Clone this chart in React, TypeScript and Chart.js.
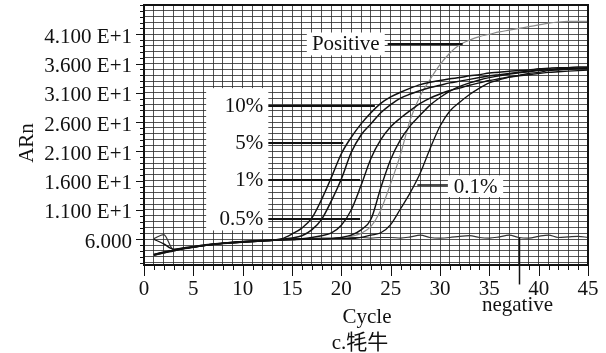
import React, { useEffect, useRef } from 'react';
import { Chart, registerables } from 'chart.js';

Chart.register(...registerables);

// ---- data ----
const cycles = [1, 2, 3, 4, 5, 6, 7, 8, 9, 10, 11, 12, 13, 14, 15, 16, 17, 18, 19, 20, 21, 22, 23, 24, 25, 26, 27, 28, 29, 30, 31, 32, 33, 34, 35, 36, 37, 38, 39, 40, 41, 42, 43, 44, 45];

const xGridValues = [0, 1, 2, 3, 4, 5, 6, 7, 8, 9, 10, 11, 12, 13, 14, 15, 16, 17, 18, 19, 20, 21, 22, 23, 24, 25, 26, 27, 28, 29, 30, 31, 32, 33, 34, 35, 36, 37, 38, 39, 40, 41, 42, 43, 44, 45];
const xTickValues = [0, 5, 10, 15, 20, 25, 30, 35, 40, 45];
const xTickLabels = ['0', '5', '10', '15', '20', '25', '30', '35', '40', '45'];

const yGridValues = [2, 3, 4, 5, 6, 7, 8, 9, 10, 11, 12, 13, 14, 15, 16, 17, 18, 19, 20, 21, 22, 23, 24, 25, 26, 27, 28, 29, 30, 31, 32, 33, 34, 35, 36, 37, 38, 39, 40, 41, 42, 43, 44, 45, 46];
const yTickValues = [6, 11, 16, 21, 26, 31, 36, 41];
const yTickLabels = ['6.000', '1.100 E+1', '1.600 E+1', '2.100 E+1', '2.600 E+1', '3.100 E+1', '3.600 E+1', '4.100 E+1'];
const yMin = 1.6;
const yMax = 46;

const tenPct = [3.3, 3.7, 4.1, 4.4, 4.7, 4.9, 5.1, 5.3, 5.4, 5.5, 5.6, 5.7, 5.8, 6.1, 6.9, 7.9, 9.6, 12.8, 16.6, 20.6, 23.4, 25.7, 27.6, 29.2, 30.3, 31.1, 31.8, 32.4, 32.8, 33.1, 33.4, 33.6, 33.9, 34.1, 34.4, 34.5, 34.7, 34.8, 34.9, 35.1, 35.2, 35.3, 35.3, 35.4, 35.4];
const fivePct = [3.4, 3.8, 4.1, 4.5, 4.7, 5.0, 5.2, 5.3, 5.5, 5.6, 5.7, 5.8, 5.9, 6.0, 6.2, 6.6, 7.6, 9.4, 12.6, 16.3, 20.8, 23.8, 25.7, 27.6, 29.0, 30.1, 30.8, 31.4, 31.9, 32.3, 32.7, 33.0, 33.3, 33.6, 33.9, 34.1, 34.3, 34.5, 34.7, 34.9, 35.0, 35.1, 35.2, 35.2, 35.3];
const onePct = [3.3, 3.7, 4.0, 4.4, 4.6, 4.9, 5.1, 5.3, 5.4, 5.5, 5.6, 5.7, 5.8, 5.9, 6.0, 6.1, 6.3, 6.6, 7.1, 8.4, 11.0, 15.2, 19.8, 23.0, 25.2, 26.7, 28.0, 29.2, 30.1, 30.8, 31.4, 31.8, 32.3, 32.7, 33.1, 33.4, 33.7, 33.9, 34.1, 34.3, 34.5, 34.6, 34.7, 34.8, 34.9];
const halfPct = [3.4, 3.8, 4.1, 4.4, 4.7, 4.9, 5.2, 5.3, 5.5, 5.6, 5.7, 5.8, 5.8, 5.9, 6.0, 6.0, 6.0, 6.0, 6.1, 6.3, 6.7, 7.6, 9.4, 14.8, 19.6, 23.0, 25.4, 27.2, 28.9, 30.2, 31.3, 32.1, 32.7, 33.2, 33.6, 33.9, 34.2, 34.4, 34.6, 34.8, 34.9, 35.0, 35.1, 35.2, 35.2];
const tenthPct = [6.0, 5.2, 4.3, 4.5, 4.7, 4.9, 5.1, 5.3, 5.4, 5.5, 5.6, 5.7, 5.8, 5.9, 5.9, 6.0, 6.0, 6.0, 6.1, 6.1, 6.1, 6.3, 6.7, 7.1, 8.5, 11.2, 14.0, 17.3, 21.5, 25.3, 27.9, 29.4, 30.7, 31.8, 32.7, 33.2, 33.7, 34.0, 34.3, 34.5, 34.8, 34.9, 35.0, 35.1, 35.2];
const positive = [3.2, 3.6, 4.0, 4.3, 4.6, 4.9, 5.1, 5.2, 5.4, 5.5, 5.6, 5.7, 5.8, 5.9, 5.9, 6.0, 6.0, 6.0, 6.1, 6.2, 6.5, 7.0, 8.2, 11.0, 15.5, 20.5, 26.5, 30.5, 33.3, 35.8, 37.8, 39.2, 40.0, 40.6, 41.0, 41.4, 41.7, 42.0, 42.3, 42.6, 42.9, 43.1, 43.2, 43.2, 43.2];
const negative = [6.1, 6.8, 4.2, 4.4, 4.7, 4.9, 5.1, 5.3, 5.4, 5.6, 5.7, 5.8, 5.9, 5.9, 6.0, 6.1, 6.1, 6.2, 6.2, 6.3, 6.3, 6.3, 6.2, 6.3, 6.3, 6.2, 6.4, 6.7, 6.3, 6.2, 6.3, 6.5, 6.6, 6.3, 6.2, 6.4, 6.7, 6.3, 6.2, 6.5, 6.7, 6.3, 6.4, 6.5, 6.3];

// annotation labels (data coordinates)
const pctLabels = ['10%', '5%', '1%', '0.5%'];
const pctLineValues = [28.7, 22.4, 16.1, 9.4];
const pctLineEnds = [23.4, 20.2, 21.9, 21.9];
const pctBox = [6.3, 12.6, 31.8, 7.5]; // x0, x1, yTop, yBottom
const positiveLabel = 'Positive';
const positiveBox = [16.5, 24.4, 41.3, 37.4];
const positiveLine = [24.7, 32.3, 39.3];
const tenthLabel = '0.1%';
const tenthBox = [30.8, 36.4, 16.9, 13.2];
const tenthLine = [27.7, 30.8, 15.2];
const negativeLabel = 'negative';
const negativeAt = [38.0, 6.3];
const xTitle = 'Cycle';
const subTitle = 'c.牦牛';
const yTitle = 'ARn';

const FONT = '"Liberation Serif", "Noto Sans CJK SC", serif';

const series = [
  { label: '10%', data: tenPct, color: '#111', width: 1.5 },
  { label: '5%', data: fivePct, color: '#111', width: 1.5 },
  { label: '1%', data: onePct, color: '#111', width: 1.4 },
  { label: '0.5%', data: halfPct, color: '#111', width: 1.4 },
  { label: '0.1%', data: tenthPct, color: '#111', width: 1.3 },
  { label: 'Positive', data: positive, color: '#8c8c8c', width: 1.2 },
  { label: 'negative', data: negative, color: '#333', width: 1.2 },
];

const overlay = {
  id: 'overlay',
  beforeDatasetsDraw(chart: any) {
    const { ctx, scales } = chart;
    const x = scales.x, y = scales.y;
    ctx.save();
    ctx.fillStyle = '#ffffff';
    const box = (b: number[]) => {
      const x0 = x.getPixelForValue(b[0]);
      const x1 = x.getPixelForValue(b[1]);
      const y0 = y.getPixelForValue(b[2]);
      const y1 = y.getPixelForValue(b[3]);
      ctx.fillRect(x0, y0, x1 - x0, y1 - y0);
    };
    box(pctBox);
    box(positiveBox);
    box(tenthBox);
    ctx.restore();
  },
  afterDatasetsDraw(chart: any) {
    const { ctx, scales } = chart;
    const x = scales.x, y = scales.y;
    ctx.save();
    ctx.fillStyle = '#111';
    ctx.strokeStyle = '#111';
    ctx.font = `21px ${FONT}`;

    // percent labels
    const boxRight = x.getPixelForValue(pctBox[1]);
    pctLabels.forEach((t, i) => {
      const py = Math.round(y.getPixelForValue(pctLineValues[i]));
      ctx.textAlign = 'right';
      ctx.textBaseline = 'middle';
      ctx.fillText(t, boxRight - 5, py);
      ctx.lineWidth = 2;
      ctx.beginPath();
      ctx.moveTo(boxRight, py);
      ctx.lineTo(x.getPixelForValue(pctLineEnds[i]), py);
      ctx.stroke();
    });

    // Positive
    ctx.textAlign = 'center';
    ctx.textBaseline = 'middle';
    ctx.fillText(
      positiveLabel,
      (x.getPixelForValue(positiveBox[0]) + x.getPixelForValue(positiveBox[1])) / 2,
      (y.getPixelForValue(positiveBox[2]) + y.getPixelForValue(positiveBox[3])) / 2 + 1
    );
    ctx.lineWidth = 2;
    let py = Math.round(y.getPixelForValue(positiveLine[2]));
    ctx.beginPath();
    ctx.moveTo(x.getPixelForValue(positiveLine[0]), py);
    ctx.lineTo(x.getPixelForValue(positiveLine[1]), py);
    ctx.stroke();

    // 0.1%
    ctx.fillText(
      tenthLabel,
      (x.getPixelForValue(tenthBox[0]) + x.getPixelForValue(tenthBox[1])) / 2,
      (y.getPixelForValue(tenthBox[2]) + y.getPixelForValue(tenthBox[3])) / 2 + 1
    );
    ctx.lineWidth = 1.5;
    py = Math.round(y.getPixelForValue(tenthLine[2]));
    ctx.beginPath();
    ctx.moveTo(x.getPixelForValue(tenthLine[0]), py);
    ctx.lineTo(x.getPixelForValue(tenthLine[1]), py);
    ctx.stroke();
    ctx.restore();
  },
  afterDraw(chart: any) {
    const { ctx, scales, chartArea } = chart;
    const x = scales.x, y = scales.y;
    ctx.save();
    ctx.strokeStyle = '#111';
    // frame
    ctx.lineWidth = 2;
    ctx.strokeRect(chartArea.left, chartArea.top, chartArea.right - chartArea.left, chartArea.bottom - chartArea.top);
    // x tick marks
    ctx.lineWidth = 1;
    xGridValues.forEach((v) => {
      const px = Math.round(x.getPixelForValue(v)) + 0.5;
      const len = xTickValues.includes(v) ? 11 : 5;
      ctx.beginPath();
      ctx.moveTo(px, chartArea.bottom);
      ctx.lineTo(px, chartArea.bottom + len);
      ctx.stroke();
    });
    // y tick marks
    yGridValues.forEach((v) => {
      const pyy = Math.round(y.getPixelForValue(v)) + 0.5;
      const len = yTickValues.includes(v) ? 8 : 4;
      ctx.beginPath();
      ctx.moveTo(chartArea.left - len, pyy);
      ctx.lineTo(chartArea.left, pyy);
      ctx.stroke();
    });
    // negative pointer
    const nx = Math.round(x.getPixelForValue(negativeAt[0])) + 0.5;
    const ny = y.getPixelForValue(negativeAt[1]);
    ctx.lineWidth = 1.5;
    ctx.beginPath();
    ctx.moveTo(nx, ny);
    ctx.lineTo(nx, ny + 47);
    ctx.stroke();
    ctx.fillStyle = '#111';
    ctx.font = `21px ${FONT}`;
    ctx.textAlign = 'center';
    ctx.textBaseline = 'alphabetic';
    ctx.fillText(negativeLabel, nx - 2, ny + 74);

    // axis titles
    const cx = (chartArea.left + chartArea.right) / 2;
    ctx.fillText(xTitle, cx + 1, chartArea.bottom + 58);
    ctx.fillText(subTitle, cx - 6, chartArea.bottom + 84);
    ctx.save();
    ctx.translate(33, (chartArea.top + chartArea.bottom) / 2 + 8);
    ctx.rotate(-Math.PI / 2);
    ctx.fillText(yTitle, 0, 0);
    ctx.restore();
    ctx.restore();
  },
};

export default function App() {
  const ref = useRef<HTMLCanvasElement | null>(null);
  useEffect(() => {
    if (!ref.current) return;
    const gridColor = 'rgba(40,40,40,0.8)';
    const chart = new Chart(ref.current, {
      type: 'line',
      data: {
        datasets: series.map((s) => ({
          label: s.label,
          data: cycles.map((c, i) => ({ x: c, y: s.data[i] })),
          borderColor: s.color,
          borderWidth: s.width,
          pointRadius: 0,
          fill: false,
          cubicInterpolationMode: 'monotone' as const,
        })),
      },
      options: {
        responsive: false,
        animation: false,
        devicePixelRatio: 1,
        layout: { padding: { left: 0, top: 5, right: 18, bottom: 0 } },
        plugins: { legend: { display: false }, tooltip: { enabled: false } },
        scales: {
          x: {
            type: 'linear',
            min: 0,
            max: 45,
            afterBuildTicks: (s: any) => {
              s.ticks = xGridValues.map((v) => ({ value: v }));
            },
            afterFit: (s: any) => {
              s.height = 88;
              s.paddingLeft = 0;
              s.paddingRight = 0;
            },
            grid: { color: gridColor, lineWidth: 1, drawTicks: false },
            border: { display: false },
            ticks: {
              autoSkip: false,
              maxRotation: 0,
              padding: 12,
              color: '#111',
              font: { family: FONT, size: 21 },
              callback: (v: any) => {
                const i = xTickValues.indexOf(Number(v));
                return i >= 0 ? xTickLabels[i] : '';
              },
            },
          },
          y: {
            type: 'linear',
            min: yMin,
            max: yMax,
            afterBuildTicks: (s: any) => {
              s.ticks = yGridValues.map((v) => ({ value: v }));
            },
            afterFit: (s: any) => {
              s.width = 144;
              s.paddingTop = 0;
              s.paddingBottom = 0;
            },
            grid: { color: gridColor, lineWidth: 1, drawTicks: false },
            border: { display: false },
            ticks: {
              autoSkip: false,
              padding: 12,
              labelOffset: 3,
              color: '#111',
              font: { family: FONT, size: 21 },
              callback: (v: any) => {
                const i = yTickValues.indexOf(Number(v));
                return i >= 0 ? yTickLabels[i] : '';
              },
            },
          },
        },
      },
      plugins: [overlay],
    });
    return () => chart.destroy();
  }, []);
  return (
    <div style={{ position: 'absolute', left: 0, top: 0, width: 606, height: 353, background: '#fff' }}>
      <canvas ref={ref} width={606} height={353} />
    </div>
  );
}
